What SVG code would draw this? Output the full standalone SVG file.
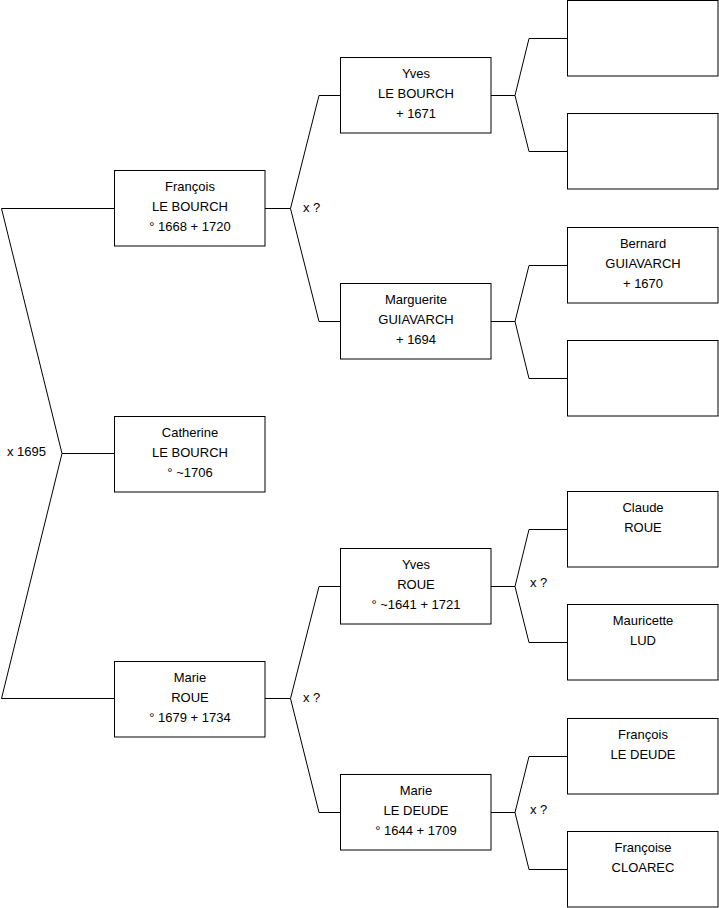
<svg xmlns="http://www.w3.org/2000/svg" width="719" height="908" viewBox="0 0 719 908">
<style>
.box{fill:#fff;stroke:#000;stroke-width:1}
.c{fill:none;stroke:#000;stroke-width:1}
text{font-family:"Liberation Sans",Arial,sans-serif;font-size:13px;fill:#000}
.t{text-anchor:middle}
</style>
<rect width="719" height="908" fill="#fff"/>
<g id="connectors">
<path class="c" d="M114,208.5 H1.5 L62,453.5 H114 M62,453.5 L1.5,698.5 H114"/>
<path class="c" d="M265,208.5 H290.5 L319,95.5 H340 M290.5,208.5 L319,321.5 H340"/>
<path class="c" d="M265,698.5 H290.5 L319,586.5 H340 M290.5,698.5 L319,812.5 H340"/>
<path class="c" d="M491,95.5 H515 L529,38.5 H567 M515,95.5 L529,151.5 H567"/>
<path class="c" d="M491,321.5 H515 L529,265.5 H567 M515,321.5 L529,378.5 H567"/>
<path class="c" d="M491,586.5 H515 L529,529.5 H567 M515,586.5 L529,642.5 H567"/>
<path class="c" d="M491,812.5 H515 L529,756.5 H567 M515,812.5 L529,869.5 H567"/>
<text x="7" y="456">x 1695</text>
<text x="303" y="212">x ?</text>
<text x="303" y="702">x ?</text>
<text x="530" y="587">x ?</text>
<text x="530" y="814">x ?</text>
</g>
<g id="francois">
<rect class="box" x="114.5" y="170.5" width="150.5" height="75.5"/>
<text class="t" x="190" y="191">François</text><text class="t" x="190" y="211">LE BOURCH</text><text class="t" x="190" y="231">° 1668 + 1720</text>
</g>
<g id="catherine">
<rect class="box" x="114.5" y="416.5" width="150.5" height="75.5"/>
<text class="t" x="190" y="437">Catherine</text><text class="t" x="190" y="457">LE BOURCH</text><text class="t" x="190" y="477">° ~1706</text>
</g>
<g id="marie-roue">
<rect class="box" x="114.5" y="661.5" width="150.5" height="75.5"/>
<text class="t" x="190" y="682">Marie</text><text class="t" x="190" y="702">ROUE</text><text class="t" x="190" y="722">° 1679 + 1734</text>
</g>
<g id="yves-le-bourch">
<rect class="box" x="340.5" y="57.5" width="150.5" height="75.5"/>
<text class="t" x="416" y="78">Yves</text><text class="t" x="416" y="98">LE BOURCH</text><text class="t" x="416" y="118">+ 1671</text>
</g>
<g id="marguerite">
<rect class="box" x="340.5" y="283.5" width="150.5" height="75.5"/>
<text class="t" x="416" y="304">Marguerite</text><text class="t" x="416" y="324">GUIAVARCH</text><text class="t" x="416" y="344">+ 1694</text>
</g>
<g id="yves-roue">
<rect class="box" x="340.5" y="548.5" width="150.5" height="75.5"/>
<text class="t" x="416" y="569">Yves</text><text class="t" x="416" y="589">ROUE</text><text class="t" x="416" y="609">° ~1641 + 1721</text>
</g>
<g id="marie-le-deude">
<rect class="box" x="340.5" y="774.5" width="150.5" height="75.5"/>
<text class="t" x="416" y="795">Marie</text><text class="t" x="416" y="815">LE DEUDE</text><text class="t" x="416" y="835">° 1644 + 1709</text>
</g>
<g id="empty1"><rect class="box" x="567.5" y="0.5" width="150.5" height="75.5"/></g>
<g id="empty2"><rect class="box" x="567.5" y="113.5" width="150.5" height="75.5"/></g>
<g id="bernard">
<rect class="box" x="567.5" y="227.5" width="150.5" height="75.5"/>
<text class="t" x="643" y="248">Bernard</text><text class="t" x="643" y="268">GUIAVARCH</text><text class="t" x="643" y="288">+ 1670</text>
</g>
<g id="empty3"><rect class="box" x="567.5" y="340.5" width="150.5" height="75.5"/></g>
<g id="claude">
<rect class="box" x="567.5" y="491.5" width="150.5" height="75.5"/>
<text class="t" x="643" y="512">Claude</text><text class="t" x="643" y="532">ROUE</text>
</g>
<g id="mauricette">
<rect class="box" x="567.5" y="604.5" width="150.5" height="75.5"/>
<text class="t" x="643" y="625">Mauricette</text><text class="t" x="643" y="645">LUD</text>
</g>
<g id="francois-le-deude">
<rect class="box" x="567.5" y="718.5" width="150.5" height="75.5"/>
<text class="t" x="643" y="739">François</text><text class="t" x="643" y="759">LE DEUDE</text>
</g>
<g id="francoise">
<rect class="box" x="567.5" y="831.5" width="150.5" height="75.5"/>
<text class="t" x="643" y="852">Françoise</text><text class="t" x="643" y="872">CLOAREC</text>
</g>
</svg>
